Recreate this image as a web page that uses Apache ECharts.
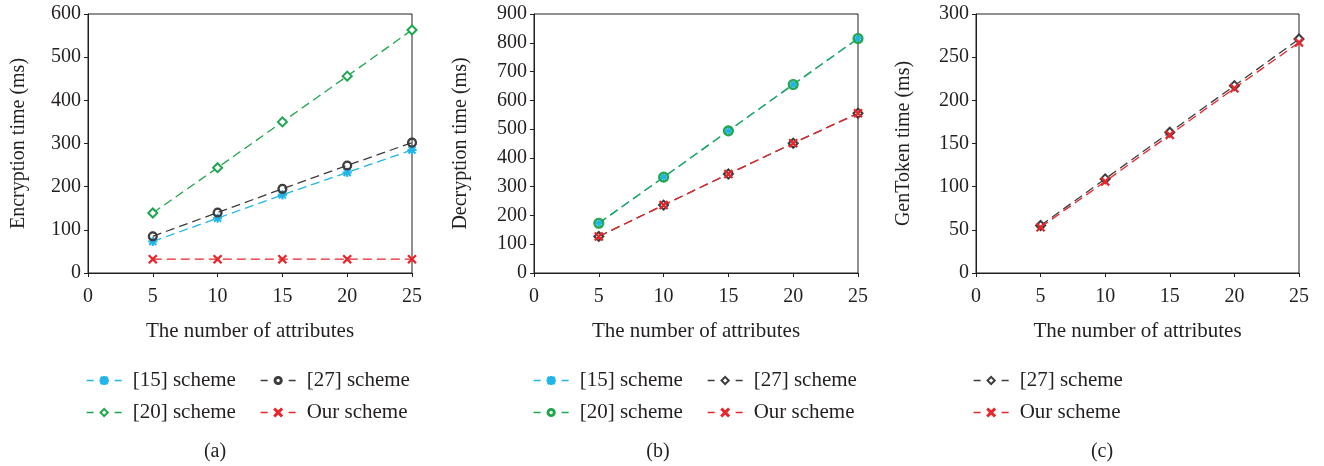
<!DOCTYPE html>
<html>
<head>
<meta charset="utf-8">
<script src="https://cdn.jsdelivr.net/npm/echarts@6/dist/echarts.min.js"></script>
<style>
  html, body { margin: 0; padding: 0; background: #fff; }
  #main { width: 1324px; height: 466px; }
</style>
</head>
<body>
<div id="main"></div>
<script>
// number of attributes (x values)
var attrs = [5, 10, 15, 20, 25];

// (a) encryption time (ms)
var encScheme15 = [73, 127, 181, 233, 285];
var encScheme27 = [85, 140, 195, 249, 302];
var encScheme20 = [139, 244, 350, 456, 563];
var encOurs = [32, 32, 32, 32, 32];

// (b) decryption time (ms)
var decScheme15 = [173, 333, 494, 655, 815];
var decScheme27 = [127, 236, 344, 451, 555];
var decScheme20 = [173, 333, 494, 655, 815];
var decOurs = [127, 236, 344, 451, 555];

// (c) GenToken time (ms)
var tokScheme27 = [55, 109, 163, 217, 271];
var tokOurs = [53, 106, 160, 214, 267];

var yTitles = ['Encryption time (ms)', 'Decryption time (ms)', 'GenToken time (ms)'];
var yMax = [600, 900, 300];
var yStep = [100, 100, 50];
var captions = ['(a)', '(b)', '(c)'];

var FONT = 'Liberation Serif';
var INK = '#231f20';
var CYAN = '#1fb4ea';
var GREY = '#3c3c3c';
var GREEN = '#1ea64e';
var RED = '#e8262b';

// thin x cross, asterisk (+ and x) and hollow ring as filled paths
var CROSS = 'path://M0,1 L1,0 L5,4 L9,0 L10,1 L6,5 L10,9 L9,10 L5,6 L1,10 L0,9 L4,5 Z';
var STAR = 'path://M4.4,0 L5.6,0 L5.6,10 L4.4,10 Z M0,4.4 L10,4.4 L10,5.6 L0,5.6 Z M0.7,1.5 L1.5,0.7 L5,4.2 L8.5,0.7 L9.3,1.5 L5.8,5 L9.3,8.5 L8.5,9.3 L5,5.8 L1.5,9.3 L0.7,8.5 L4.2,5 Z';
var RING = 'path://M5,0 A5,5 0 1,1 4.99,0 Z M5,1.3 A3.7,3.7 0 1,0 5.01,1.3 Z';

function pairs(ys) {
  return attrs.map(function (x, i) { return [x, ys[i]]; });
}

function mkSeries(name, panel, ys, color, symbol, size) {
  return {
    name: name + '@' + panel,
    type: 'line',
    xAxisIndex: panel,
    yAxisIndex: panel,
    data: pairs(ys),
    symbol: symbol,
    symbolSize: size,
    showAllSymbol: true,
    animation: false,
    lineStyle: { color: color, width: 1.3, type: [9, 5] },
    itemStyle: { color: color, borderColor: color, borderWidth: 1.1 }
  };
}

var series = [
  mkSeries('[15] scheme', 0, encScheme15, CYAN, STAR, 8),
  mkSeries('[27] scheme', 0, encScheme27, GREY, RING, 9),
  mkSeries('[20] scheme', 0, encScheme20, GREEN, 'emptyDiamond', 9),
  mkSeries('Our scheme', 0, encOurs, RED, CROSS, 8),

  mkSeries('[15] scheme', 1, decScheme15, CYAN, STAR, 5.5),
  mkSeries('[27] scheme', 1, decScheme27, GREY, 'emptyDiamond', 9),
  mkSeries('[20] scheme', 1, decScheme20, GREEN, RING, 10),
  mkSeries('Our scheme', 1, decOurs, RED, CROSS, 8),

  mkSeries('[27] scheme', 2, tokScheme27, GREY, 'emptyDiamond', 9),
  mkSeries('Our scheme', 2, tokOurs, RED, CROSS, 8)
];

// plot boxes
var grids = [
  { left: 88, top: 14, width: 324, height: 259 },
  { left: 534, top: 14, width: 324, height: 259 },
  { left: 976, top: 14, width: 323, height: 259 }
];
var yNameGap = [59, 63, 62];

// legend slots: [series name, panel, left, top]
var legendSlots = [
  ['[15] scheme', 0, 86, 370], ['[27] scheme', 0, 260, 370],
  ['[20] scheme', 0, 86, 402], ['Our scheme', 0, 260, 402],
  ['[15] scheme', 1, 533, 370], ['[27] scheme', 1, 707, 370],
  ['[20] scheme', 1, 533, 402], ['Our scheme', 1, 707, 402],
  ['[27] scheme', 2, 973, 370],
  ['Our scheme', 2, 973, 402]
];

var option = {
  backgroundColor: '#fff',
  textStyle: { fontFamily: FONT, color: INK },
  grid: grids.map(function (g) {
    return Object.assign({ show: true, borderColor: INK, borderWidth: 1, backgroundColor: 'transparent' }, g);
  }),
  xAxis: [0, 1, 2].map(function (i) {
    return {
      type: 'value', gridIndex: i, min: 0, max: 25, interval: 5,
      name: 'The number of attributes', nameLocation: 'middle', nameGap: 48,
      nameTextStyle: { fontFamily: FONT, fontSize: 21, color: INK },
      axisLine: { show: true, onZero: false, lineStyle: { color: INK, width: 1 } },
      axisTick: { show: true, length: 4, lineStyle: { color: INK } },
      axisLabel: { fontFamily: FONT, fontSize: 20, color: INK, margin: 14 },
      splitLine: { show: false }
    };
  }),
  yAxis: [0, 1, 2].map(function (i) {
    return {
      type: 'value', gridIndex: i, min: 0, max: yMax[i], interval: yStep[i],
      name: yTitles[i], nameLocation: 'middle', nameGap: yNameGap[i],
      nameTextStyle: { fontFamily: FONT, fontSize: 20, color: INK },
      axisLine: { show: true, lineStyle: { color: INK, width: 1 } },
      axisTick: { show: true, length: 4, lineStyle: { color: INK } },
      axisLabel: { fontFamily: FONT, fontSize: 20, color: INK, margin: 7 },
      splitLine: { show: false }
    };
  }),
  legend: legendSlots.map(function (s) {
    return {
      data: [s[0] + '@' + s[1]],
      left: s[2], top: s[3], padding: 0,
      itemWidth: 35, itemHeight: 9,
      selectedMode: false,
      lineStyle: { type: [7, 21], width: 1.3 },
      formatter: function (n) { return n.split('@')[0]; },
      textStyle: { fontFamily: FONT, fontSize: 21, color: INK, padding: [0, 0, 0, 6] }
    };
  }),
  graphic: captions.map(function (c, i) {
    return {
      type: 'text',
      x: [215, 658, 1102][i], y: 452,
      style: { text: c, font: '20px "' + FONT + '"', fill: INK, textAlign: 'center', textVerticalAlign: 'middle' }
    };
  }),
  series: series
};

var chart = echarts.init(document.getElementById('main'));
chart.setOption(option);
</script>
</body>
</html>
